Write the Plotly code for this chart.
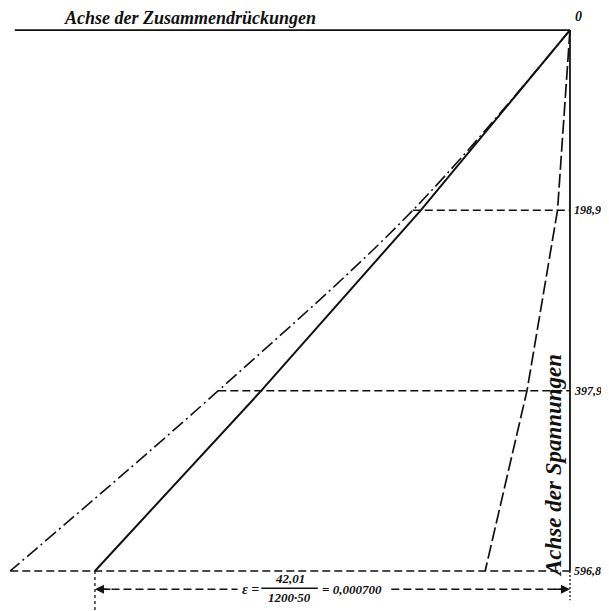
import plotly.graph_objects as go

# ---- data ----
stress = [0, 198.9, 397.9, 596.8]            # Spannungen
total = [0, 13.9, 31.1, 49.5]                # gesamte Zusammendrückung
elastic = [0, 13.2, 27.3, 42.01]             # elastische Zusammendrückung
permanent = [0, 1.1, 3.8, 7.5]               # bleibende Zusammendrückung
stress_labels = ["0", "198,9", "397,9", "596,8"]

title_x = "Achse der Zusammendrückungen"
title_y = "Achse der Spannungen"

# ---- layout constants ----
X_RANGE = [49.70, -4.16]
Y_RANGE = [649.8, -24.3]
AXIS_X_LEN = 49.1
S_DIM = 617.0
S_EXT = 629.0

fig = go.Figure()

ink = "#111111"

fig.add_trace(go.Scatter(x=total, y=stress, mode="lines",
                         line=dict(color=ink, width=1.6, dash="14px,4px,2px,4px"),
                         line_shape="spline", hoverinfo="skip", showlegend=False))
fig.add_trace(go.Scatter(x=elastic, y=stress, mode="lines",
                         line=dict(color=ink, width=2.0),
                         hoverinfo="skip", showlegend=False))
fig.add_trace(go.Scatter(x=permanent, y=stress, mode="lines",
                         line=dict(color=ink, width=1.7, dash="14px,4px"),
                         hoverinfo="skip", showlegend=False))

shapes = []
# top axis (Zusammendrückungen)
shapes.append(dict(type="line", xref="x", yref="y", x0=AXIS_X_LEN, x1=0, y0=0, y1=0,
                   line=dict(color=ink, width=1.8)))
# vertical axis (Spannungen)
shapes.append(dict(type="line", xref="x", yref="y", x0=0, x1=0, y0=0, y1=stress[-1],
                   line=dict(color=ink, width=1.8)))
shapes.append(dict(type="line", xref="x", yref="y", x0=0, x1=0, y0=stress[-1], y1=S_EXT,
                   line=dict(color=ink, width=1.3, dash="2px,2px")))
# horizontal dashed stress lines
for t, s in zip(total[1:], stress[1:]):
    shapes.append(dict(type="line", xref="x", yref="y", x0=t, x1=0, y0=s, y1=s,
                       line=dict(color=ink, width=1.4, dash="8px,4px")))
# extension line at elastic end
shapes.append(dict(type="line", xref="x", yref="y", x0=elastic[-1], x1=elastic[-1],
                   y0=stress[-1], y1=Y_RANGE[0],
                   line=dict(color=ink, width=1.3, dash="3px,3px")))
# dimension line pieces
shapes.append(dict(type="line", xref="x", yref="y", x0=elastic[-1] - 0.4, x1=29.4,
                   y0=S_DIM, y1=S_DIM, line=dict(color=ink, width=1.4, dash="8px,4px")))
shapes.append(dict(type="line", xref="x", yref="y", x0=15.8, x1=0.4,
                   y0=S_DIM, y1=S_DIM, line=dict(color=ink, width=1.4, dash="8px,4px")))
# fraction bar
shapes.append(dict(type="line", xref="x", yref="y", x0=27.3, x1=22.3,
                   y0=S_DIM - 1, y1=S_DIM - 1, line=dict(color=ink, width=1.5)))
fig.update_layout(shapes=shapes)

annotations = []
# arrowheads on dimension line
annotations.append(dict(x=elastic[-1], y=S_DIM, ax=elastic[-1] - 1.5, ay=S_DIM,
                        xref="x", yref="y", axref="x", ayref="y", text="",
                        showarrow=True, arrowhead=2, arrowsize=1.2, arrowwidth=1.5, arrowcolor=ink))
annotations.append(dict(x=0, y=S_DIM, ax=1.5, ay=S_DIM,
                        xref="x", yref="y", axref="x", ayref="y", text="",
                        showarrow=True, arrowhead=2, arrowsize=1.2, arrowwidth=1.5, arrowcolor=ink))

fnt = dict(family="Liberation Serif", color=ink)
# stress labels
annotations.append(dict(x=-0.25, y=1, xref="x", yref="paper", text="<b><i>" + stress_labels[0] + "</i></b>",
                        showarrow=False, xanchor="left", yanchor="top", yshift=1,
                        font=dict(size=14, **fnt)))
for s, lab in zip(stress[1:], stress_labels[1:]):
    annotations.append(dict(x=-0.2, y=s, xref="x", yref="y", text="<b><i>" + lab + "</i></b>",
                            showarrow=False, xanchor="left", yanchor="middle",
                            font=dict(size=12, **fnt)))
# axis titles
annotations.append(dict(x=33.6, y=1, xref="x", yref="paper", text="<b><i>" + title_x + "</i></b>",
                        showarrow=False, xanchor="center", yanchor="top", yshift=2,
                        font=dict(size=18, **fnt)))
annotations.append(dict(x=1.5, y=481, xref="x", yref="y", text="<b><i>" + title_y + "</i></b>",
                        showarrow=False, textangle=-90, xanchor="center", yanchor="middle",
                        font=dict(size=23, **fnt)))
# formula
annotations.append(dict(x=29.2, y=S_DIM, xref="x", yref="y", text="<b><i>ε =</i></b>",
                        showarrow=False, xanchor="left", yanchor="middle",
                        font=dict(size=14, **fnt)))
annotations.append(dict(x=24.8, y=S_DIM - 1, xref="x", yref="y", text="<b><i>42,01</i></b>",
                        showarrow=False, xanchor="center", yanchor="bottom",
                        font=dict(size=13, **fnt)))
annotations.append(dict(x=24.8, y=S_DIM - 1, xref="x", yref="y", text="<b><i>1200·50</i></b>",
                        showarrow=False, xanchor="center", yanchor="top",
                        font=dict(size=13, **fnt)))
annotations.append(dict(x=22.1, y=S_DIM, xref="x", yref="y", text="<b><i>= 0,000700</i></b>",
                        showarrow=False, xanchor="left", yanchor="middle",
                        font=dict(size=13, **fnt)))
fig.update_layout(annotations=annotations)

fig.update_layout(
    width=609, height=611,
    margin=dict(l=0, r=0, t=0, b=0),
    paper_bgcolor="white", plot_bgcolor="white",
    xaxis=dict(range=X_RANGE, visible=False, fixedrange=True),
    yaxis=dict(range=Y_RANGE, visible=False, fixedrange=True),
    showlegend=False,
)

fig.write_html("out.html")
